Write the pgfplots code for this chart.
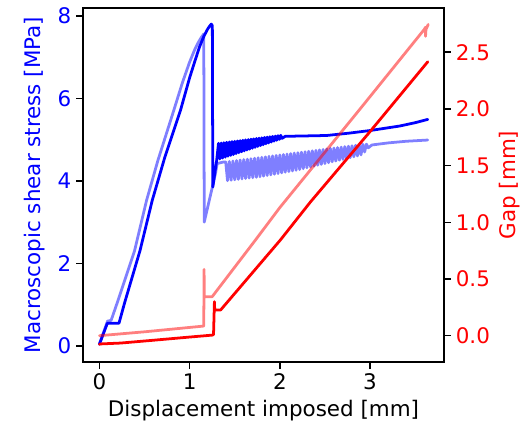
\documentclass[border=0pt]{standalone}
\usepackage{fontspec}
\setmainfont{DejaVu Sans}
\usepackage{pgfplots}
\pgfplotsset{compat=1.18}
\definecolor{mblue}{rgb}{0,0,1}
\definecolor{mred}{rgb}{1,0,0}

\pgfplotsset{
  twin/.style={
    scale only axis, width=259.92bp, height=254.88bp,
    xmin=-0.182, xmax=3.82,
    tick align=outside, major tick length=5pt,
    every tick/.style={black, line width=1.1pt},
    axis line style={line width=1.1pt},
    /pgf/number format/assume math mode=true,
    tick label style={font=\fontsize{15.5}{18}\selectfont},
  },
  curve/.style={line width=2pt, line join=round, line cap=round},
}

\begin{document}
\begin{tikzpicture}
\path[use as bounding box] (-59.76bp,-46.08bp) rectangle (319.68bp,260.64bp);

% stress (left axis)
\begin{axis}[twin,
  ymin=-0.39, ymax=8.19,
  xtick={0,1,2,3}, ytick={0,2,4,6,8},
  xtick pos=left, ytick pos=left,
  yticklabel style={text=mblue},
  xlabel={Displacement imposed [mm]},
  ylabel={Macroscopic shear stress [MPa]},
  every axis x label/.style={at={(axis description cs:0.5,-0.138)}, anchor=center, font=\fontsize{15.5}{18}\selectfont},
  every axis y label/.style={at={(axis description cs:-0.133,0.5)}, rotate=90, anchor=center, text=mblue, font=\fontsize{15.5}{18}\selectfont},
]
% previous run (faded)
\addplot[mblue, opacity=0.5, curve] coordinates {
(0,0.05) (0.09,0.60) (0.13,0.62) (0.206,1.10) (0.39,2.31) (0.523,3.53)
(0.649,4.50) (0.826,5.72) (0.92,6.38) (1.0,6.88) (1.06,7.20) (1.10,7.37) (1.13,7.48) (1.157,7.56)
(1.162,3.0) (1.287,4.18) (1.305,4.42) (1.38,4.46)
(1.40,4.460) (1.42,4.005) (1.44,4.471) (1.46,4.016) (1.48,4.482) (1.50,4.026)
(1.52,4.494) (1.54,4.036) (1.56,4.505) (1.58,4.047) (1.60,4.516) (1.62,4.057)
(1.64,4.527) (1.66,4.068) (1.68,4.538) (1.70,4.078) (1.72,4.550) (1.74,4.088)
(1.76,4.561) (1.78,4.099) (1.80,4.572) (1.82,4.114) (1.84,4.583) (1.86,4.130)
(1.88,4.594) (1.90,4.145) (1.92,4.606) (1.94,4.161) (1.96,4.617) (1.98,4.177)
(2.00,4.628) (2.02,4.193) (2.04,4.639) (2.06,4.209) (2.08,4.650) (2.10,4.224)
(2.12,4.662) (2.14,4.240) (2.16,4.673) (2.18,4.256) (2.20,4.684) (2.22,4.275)
(2.24,4.695) (2.26,4.296) (2.28,4.706) (2.30,4.317) (2.32,4.718) (2.34,4.337)
(2.36,4.729) (2.38,4.358) (2.40,4.740) (2.42,4.378) (2.44,4.751) (2.46,4.399)
(2.48,4.762) (2.50,4.419) (2.52,4.774) (2.54,4.440) (2.56,4.785) (2.58,4.461)
(2.60,4.796) (2.62,4.481) (2.64,4.807) (2.66,4.502) (2.68,4.818) (2.70,4.522)
(2.72,4.830) (2.74,4.543) (2.76,4.841) (2.78,4.563) (2.80,4.852) (2.82,4.584)
(2.84,4.863) (2.86,4.605) (2.88,4.874) (2.90,4.630) (2.92,4.886) (2.94,4.700)
(2.96,4.890) (2.98,4.800) (3.02,4.870) (3.2,4.92) (3.4,4.96) (3.64,4.99)
};
% current run
\addplot[mblue, curve] coordinates {
(0,0.04) (0.088,0.55) (0.217,0.55) (0.28,1.05) (0.45,2.31) (0.586,3.53)
(0.722,4.55) (0.90,5.72) (1.0,6.50) (1.058,6.90) (1.11,7.25) (1.157,7.50) (1.20,7.68) (1.225,7.76)
(1.24,7.80) (1.252,7.76) (1.257,3.85) (1.30,4.50)
(1.320,4.910) (1.335,4.531) (1.350,4.918) (1.365,4.552) (1.380,4.927) (1.395,4.574)
(1.410,4.935) (1.425,4.596) (1.440,4.944) (1.455,4.617) (1.470,4.952) (1.485,4.639)
(1.500,4.960) (1.515,4.660) (1.530,4.969) (1.545,4.682) (1.560,4.977) (1.575,4.704)
(1.590,4.986) (1.605,4.725) (1.620,4.994) (1.635,4.747) (1.650,5.002) (1.665,4.768)
(1.680,5.011) (1.695,4.790) (1.710,5.019) (1.725,4.812) (1.740,5.028) (1.755,4.833)
(1.770,5.036) (1.785,4.855) (1.800,5.044) (1.815,4.876) (1.830,5.053) (1.845,4.898)
(1.860,5.061) (1.875,4.920) (1.890,5.070) (1.905,4.941) (1.920,5.078) (1.935,4.963)
(1.950,5.086) (1.965,4.984) (1.980,5.095) (1.995,5.006) (2.010,5.103) (2.025,5.030)
(2.06,5.08) (2.3,5.09) (2.52,5.10) (2.78,5.16) (3.0,5.22) (3.33,5.33) (3.5,5.41) (3.64,5.49)
};
\end{axis}

% gap (right axis)
\begin{axis}[twin,
  ymin=-0.232, ymax=2.89,
  axis x line=none, axis y line*=right,
  ytick={0,0.5,1,1.5,2,2.5},
  yticklabel style={text=mred, /pgf/number format/.cd, fixed, fixed zerofill, precision=1},
  ylabel={Gap [mm]},
  every axis y label/.style={at={(axis description cs:1.183,0.5)}, rotate=90, anchor=center, text=mred, font=\fontsize{15.5}{18}\selectfont},
]
\addplot[mred, opacity=0.5, curve] coordinates {
(0,0.0) (0.51,0.035) (1.157,0.085) (1.16,0.585) (1.163,0.344) (1.25,0.344)
(1.73,0.844) (2.0,1.13) (2.89,2.0) (3.60,2.70) (3.615,2.72) (3.615,2.64)
(3.62,2.70) (3.645,2.745)
};
\addplot[mred, curve] coordinates {
(0,-0.075) (0.03,-0.072) (0.235,-0.065) (0.6,-0.04) (1.0,-0.012) (1.25,0.005)
(1.265,0.01) (1.275,0.30) (1.278,0.227) (1.344,0.227) (2.006,0.844) (2.34,1.18)
(3.0,1.80) (3.64,2.416)
};
\end{axis}
\end{tikzpicture}
\end{document}
